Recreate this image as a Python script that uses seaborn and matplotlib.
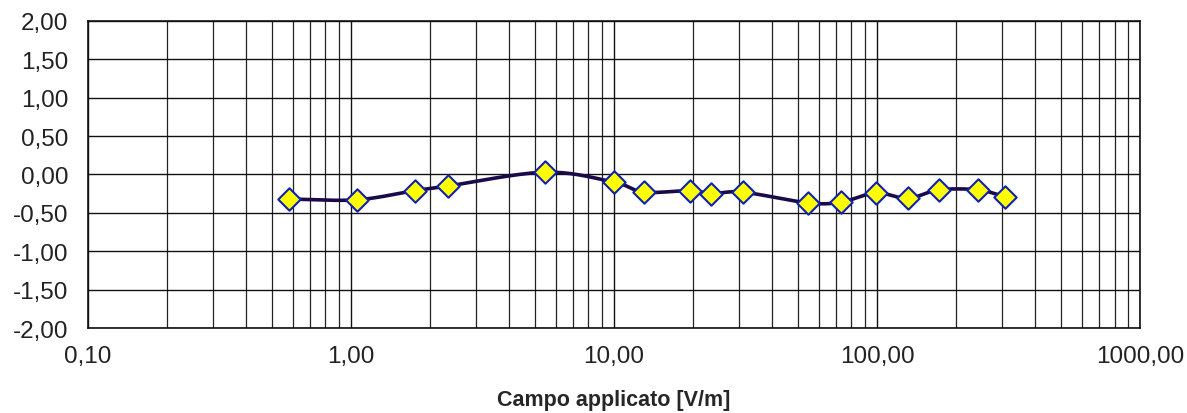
import numpy as np
import pandas as pd
import matplotlib
matplotlib.use("Agg")
import matplotlib.pyplot as plt
import seaborn as sns
from matplotlib.ticker import FixedLocator, LogLocator, NullFormatter

campo = [0.58, 1.05, 1.75, 2.34, 5.47, 10.0, 13.0, 19.5, 23.4, 30.9,
         54.7, 73.0, 99.0, 131.0, 172.0, 242.0, 307.0]
scarto = [-0.32, -0.33, -0.21, -0.15, 0.03, -0.10, -0.23, -0.21, -0.25, -0.23,
          -0.37, -0.36, -0.24, -0.31, -0.20, -0.20, -0.29]

x_ticks = [0.1, 1, 10, 100, 1000]
x_labels = ["0,10", "1,00", "10,00", "100,00", "1000,00"]
y_ticks = [-2.0, -1.5, -1.0, -0.5, 0.0, 0.5, 1.0, 1.5, 2.0]

df = pd.DataFrame({"campo": campo, "scarto": scarto})

sns.set_style("white")
plt.rcParams["font.family"] = ["Liberation Sans", "DejaVu Sans"]

# smoothed line (Catmull-Rom in log-x space, like Excel's smoothed line)
lx = np.log10(df["campo"].values)
ly = df["scarto"].values
px = np.concatenate([[2 * lx[0] - lx[1]], lx, [2 * lx[-1] - lx[-2]]])
py = np.concatenate([[2 * ly[0] - ly[1]], ly, [2 * ly[-1] - ly[-2]]])
sx, sy = [], []
t = np.linspace(0, 1, 20)
for i in range(1, len(px) - 2):
    for arr, out in ((px, sx), (py, sy)):
        p0, p1, p2, p3 = arr[i - 1], arr[i], arr[i + 1], arr[i + 2]
        out.extend(0.5 * (2 * p1 + (-p0 + p2) * t + (2 * p0 - 5 * p1 + 4 * p2 - p3) * t ** 2
                          + (-p0 + 3 * p1 - 3 * p2 + p3) * t ** 3))
smooth = pd.DataFrame({"campo": 10 ** np.array(sx), "scarto": sy})

fig = plt.figure(figsize=(11.87, 4.14), dpi=100)
ax = fig.add_axes([0.0741, 0.2053, 0.8863, 0.7416])

sns.lineplot(data=smooth, x="campo", y="scarto", ax=ax, color="#1a0a4a",
             linewidth=2.6, sort=False, zorder=3)
sns.scatterplot(data=df, x="campo", y="scarto", ax=ax, marker="D", s=130,
                color="#ffff00", edgecolor="#1020b0", linewidth=1.5, zorder=4)

ax.set_xscale("log")
ax.set_xlim(0.1, 1000)
ax.set_ylim(-2, 2)
ax.xaxis.set_major_locator(FixedLocator(x_ticks))
ax.set_xticklabels(x_labels)
ax.xaxis.set_minor_locator(LogLocator(base=10, subs=np.arange(2, 10)))
ax.xaxis.set_minor_formatter(NullFormatter())
ax.set_yticks(y_ticks)
ax.set_yticklabels([f"{v:.2f}".replace(".", ",") for v in y_ticks])

ax.grid(True, which="major", axis="both", color="#111111", linewidth=1.0)
ax.grid(True, which="minor", axis="x", color="#222222", linewidth=0.9)
ax.set_axisbelow(True)
for s in ax.spines.values():
    s.set_color("#111111")
    s.set_linewidth(1.2)

ax.tick_params(axis="both", which="both", length=0, labelsize=17.5, colors="#222222")
ax.tick_params(axis="x", pad=12)
ax.tick_params(axis="y", pad=14)
ax.set_ylabel("")
ax.set_xlabel("Campo applicato [V/m]", fontsize=15.5, fontweight="bold", labelpad=16)

fig.savefig("out.png", dpi=100)
